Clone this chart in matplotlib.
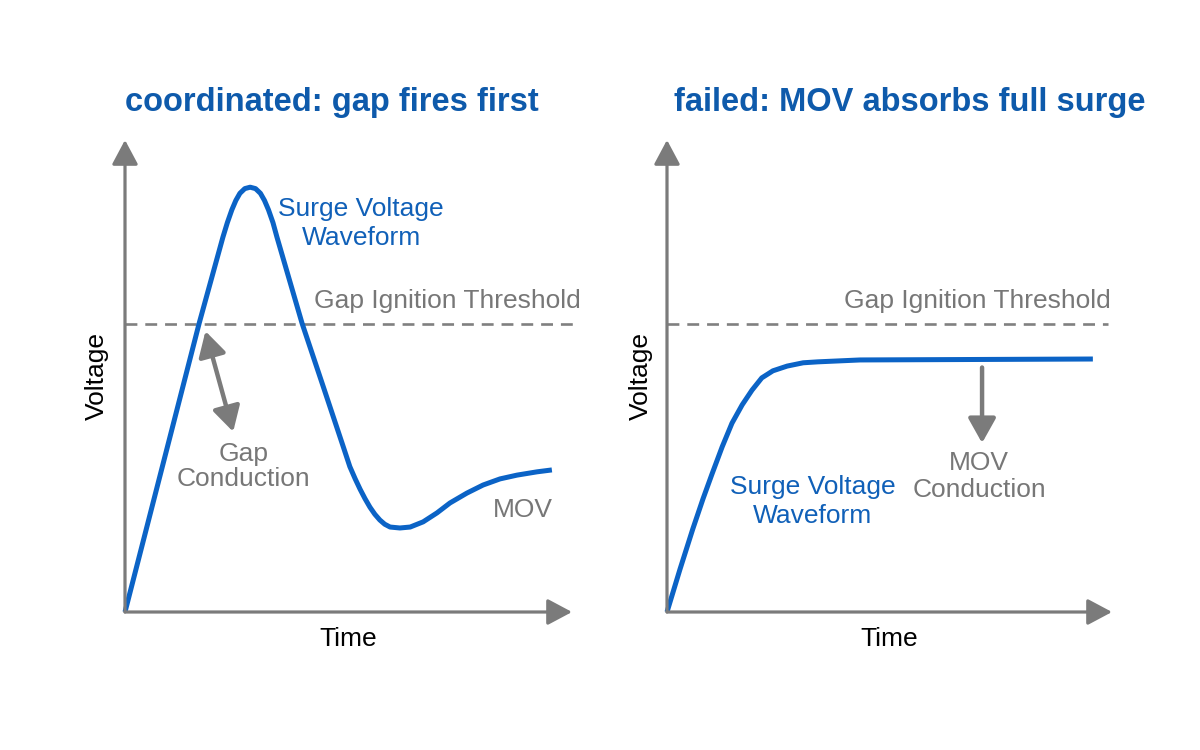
import numpy as np
import matplotlib
matplotlib.use('Agg')
import matplotlib.pyplot as plt

plt.rcParams['font.family'] = ['Liberation Sans', 'DejaVu Sans']

# Left panel: coordinated case (gap fires first)
left_time = [0, 1.66, 2.19, 2.29, 2.39, 2.48, 2.57, 2.68, 2.80, 2.92, 3.03, 3.12,
             3.21, 3.31, 3.40, 3.96, 4.43, 4.88, 5.03, 5.15, 5.26, 5.37, 5.48,
             5.59, 5.70, 5.81, 5.93, 6.15, 6.38, 6.67, 6.98, 7.27, 7.65, 8.01,
             8.39, 8.77, 9.22, 9.55]
left_volt = [0, 6.12, 7.94, 8.25, 8.52, 8.72, 8.87, 8.97, 9.00, 8.97, 8.87, 8.72,
             8.52, 8.25, 7.94, 6.12, 4.79, 3.51, 3.08, 2.82, 2.60, 2.40, 2.22,
             2.07, 1.95, 1.86, 1.80, 1.78, 1.80, 1.91, 2.10, 2.31, 2.52, 2.69,
             2.82, 2.90, 2.97, 3.01]

# Right panel: failed case (MOV clamps below gap threshold)
right_time = [0, 0.29, 0.58, 0.81, 1.01, 1.24, 1.46, 1.69, 1.91, 2.13, 2.38,
              2.70, 3.06, 3.39, 4.34, 9.57]
right_volt = [0, 0.90, 1.76, 2.40, 2.92, 3.50, 4.00, 4.39, 4.70, 4.96, 5.11,
              5.21, 5.28, 5.30, 5.34, 5.36]

threshold = 6.10
titles = ['coordinated: gap fires first', 'failed: MOV absorbs full surge']

BLUE = '#0b63c6'
TITLE_BLUE = '#0e5aab'
TEXT_BLUE = '#1060b8'
GRAY = '#7b7b7b'
TXT_GRAY = '#777777'
FS = 19

fig = plt.figure(figsize=(12, 7.5), dpi=100)
fig.patch.set_facecolor('white')

ax_l = fig.add_axes([125 / 1200, 138 / 750, 447 / 1200, 472 / 750])
ax_r = fig.add_axes([667 / 1200, 138 / 750, 445 / 1200, 472 / 750])


def setup_axes(ax, thr_end, ylab_x):
    ax.set_xlim(0, 10)
    ax.set_ylim(0, 10)
    ax.axis('off')
    # axis arrows
    arrow = dict(arrowstyle='-|>,head_length=0.75,head_width=0.4', color=GRAY,
                 lw=2.3, mutation_scale=20, shrinkA=0, shrinkB=0)
    ax.annotate('', xy=(0, 10), xytext=(0, 0), arrowprops=arrow, annotation_clip=False)
    ax.annotate('', xy=(10, 0), xytext=(0, 0), arrowprops=arrow, annotation_clip=False)
    # gap ignition threshold
    ax.plot([0, thr_end], [threshold, threshold], color='#808080', lw=1.9,
            dashes=(4.5, 3), clip_on=False)
    ax.text(5.0, -0.58, 'Time', ha='center', va='center', fontsize=FS, color='black')
    ax.text(ylab_x, 5.0, 'Voltage', rotation=90, ha='center', va='center',
            fontsize=FS, color='black')


setup_axes(ax_l, 10.18, -0.63)
setup_axes(ax_r, 9.91, -0.58)

# left panel
ax_l.plot(left_time, left_volt, color=BLUE, lw=3.6, solid_capstyle='butt',
          solid_joinstyle='round', clip_on=False)
ax_l.text(10.2, 6.58, 'Gap Ignition Threshold', ha='right', va='center',
          fontsize=FS, color=TXT_GRAY)
ax_l.text(5.28, 8.24, 'Surge Voltage\nWaveform', ha='center', va='center',
          fontsize=FS, color=TEXT_BLUE, linespacing=1.26)
ax_l.text(2.66, 3.08, 'Gap\nConduction', ha='center', va='center',
          fontsize=FS, color=TXT_GRAY, linespacing=1.04)
ax_l.text(8.90, 2.16, 'MOV', ha='center', va='center', fontsize=FS, color=TXT_GRAY)
ax_l.annotate('', xy=(1.80, 5.95), xytext=(2.42, 3.82),
              arrowprops=dict(arrowstyle='<|-|>,head_length=0.75,head_width=0.42',
                              color=GRAY, lw=3.2, mutation_scale=20,
                              shrinkA=0, shrinkB=0))

# right panel
ax_r.plot(right_time, right_volt, color=BLUE, lw=3.6, solid_capstyle='butt',
          solid_joinstyle='round', clip_on=False)
ax_r.text(9.98, 6.58, 'Gap Ignition Threshold', ha='right', va='center',
          fontsize=FS, color=TXT_GRAY)
ax_r.text(3.28, 2.34, 'Surge Voltage\nWaveform', ha='center', va='center',
          fontsize=FS, color=TEXT_BLUE, linespacing=1.22)
ax_r.text(7.01, 2.87, 'MOV\nConduction', ha='center', va='center',
          fontsize=FS, color=TXT_GRAY, linespacing=1.12)
ax_r.annotate('', xy=(7.08, 3.58), xytext=(7.08, 5.18),
              arrowprops=dict(arrowstyle='-|>,head_length=0.75,head_width=0.42',
                              color=GRAY, lw=3.2, mutation_scale=20,
                              shrinkA=0, shrinkB=0))

# panel titles
fig.text(332 / 1200, 1 - 102 / 750, titles[0], ha='center', va='center',
         fontsize=23.5, fontweight='bold', color=TITLE_BLUE)
fig.text(910 / 1200, 1 - 102 / 750, titles[1], ha='center', va='center',
         fontsize=23.5, fontweight='bold', color=TITLE_BLUE)

fig.savefig('out.png', dpi=100, facecolor='white')
